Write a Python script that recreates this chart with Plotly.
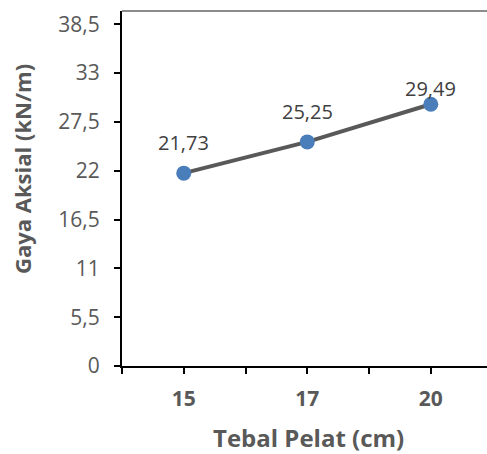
import plotly.graph_objects as go

# Plate thickness (cm) vs. axial force (kN/m)
tebal_pelat = ["15", "17", "20"]
gaya_aksial = [21.73, 25.25, 29.49]
y_ticks = [0, 5.5, 11, 16.5, 22, 27.5, 33, 38.5]


def id_num(v):
    # Indonesian decimal comma
    s = f"{v:g}"
    return s.replace(".", ",")


x_pos = list(range(len(tebal_pelat)))

fig = go.Figure()
fig.add_trace(go.Scatter(
    x=x_pos,
    y=gaya_aksial,
    mode="lines+markers",
    line=dict(color="#595959", width=4),
    marker=dict(color="#4A7EBB", size=15),
    hoverinfo="skip",
    showlegend=False,
))

# Value labels above each point
label_shift = [31, 30, 16]
for xi, v, sh in zip(x_pos, gaya_aksial, label_shift):
    fig.add_annotation(
        x=xi, y=v, xref="x", yref="y",
        text=f"{v:.2f}".replace(".", ","),
        showarrow=False, yshift=sh,
        font=dict(family="Open Sans", size=20, color="#404040"),
    )

# Axis titles
fig.add_annotation(
    x=-0.274, y=0.555, xref="paper", yref="paper",
    xanchor="center", yanchor="middle",
    text="<b>Gaya Aksial (kN/m)</b>", textangle=-90, showarrow=False,
    font=dict(family="Open Sans", size=22, color="#595959"),
)
fig.add_annotation(
    x=0.5096, y=-0.2, xref="paper", yref="paper",
    xanchor="center", yanchor="middle",
    text="<b>Tebal Pelat (cm)</b>", showarrow=False,
    font=dict(family="Open Sans", size=24, color="#595959"),
)

# Plot-area top border
fig.add_shape(type="line", xref="paper", yref="paper",
              x0=0, x1=1, y0=1, y1=1,
              line=dict(color="#8C8C8C", width=2))

x_tickvals = [-0.5]
x_ticktext = [""]
for i, t in enumerate(tebal_pelat):
    x_tickvals += [i, i + 0.5]
    x_ticktext += [f"<b>{t}</b>", ""]

fig.update_layout(
    width=487, height=454,
    margin=dict(l=122, r=0, t=11, b=88),
    paper_bgcolor="white", plot_bgcolor="white",
    xaxis=dict(
        range=[-0.5, 2.455],
        tickmode="array", tickvals=x_tickvals, ticktext=x_ticktext,
        ticks="outside", ticklen=6, tickwidth=2, tickcolor="black",
        showline=True, linecolor="black", linewidth=2,
        showgrid=False, zeroline=False,
        tickfont=dict(family="Open Sans", size=21, color="#595959"),
        ticklabelstandoff=7,
    ),
    yaxis=dict(
        range=[0, 40],
        tickmode="array", tickvals=y_ticks,
        ticktext=[id_num(v) for v in y_ticks],
        ticks="outside", ticklen=6, tickwidth=2, tickcolor="black",
        showline=True, linecolor="black", linewidth=2,
        showgrid=False, zeroline=False,
        tickfont=dict(family="Open Sans", size=21, color="#595959"),
        ticklabelstandoff=10,
    ),
)

fig.write_html("out.html")
